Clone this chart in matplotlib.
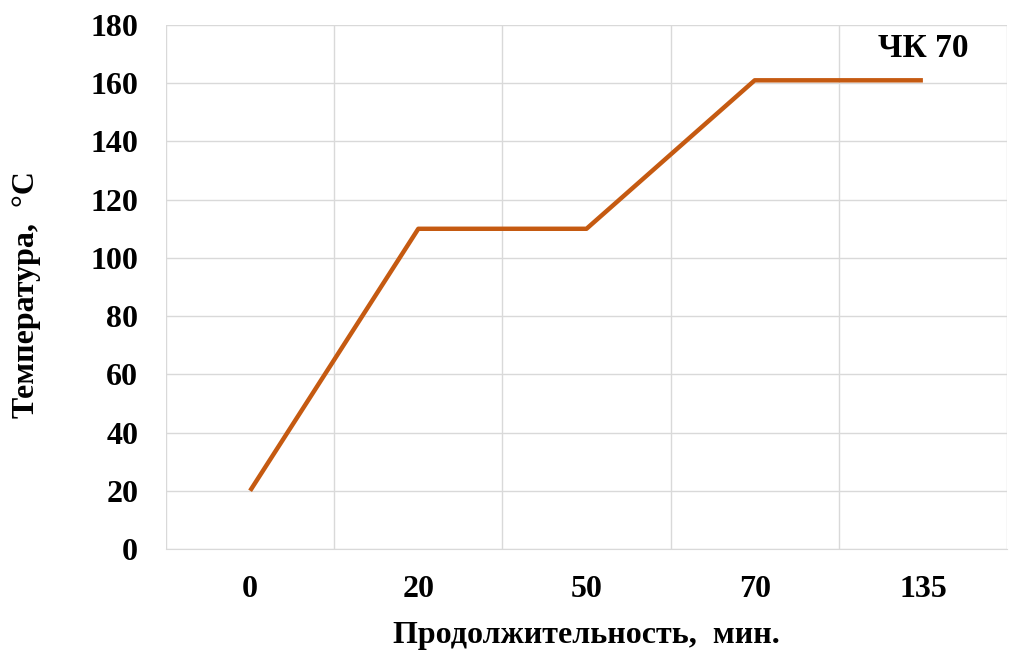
import matplotlib
matplotlib.use("Agg")
import matplotlib.pyplot as plt
import numpy as np

categories = ["0", "20", "50", "70", "135"]
temperature = [20, 110, 110, 161, 161]
series_label = "ЧК 70"
y_ticks = list(range(0, 181, 20))

plt.rcParams['font.family'] = ['Liberation Serif', 'DejaVu Serif']

fig = plt.figure(figsize=(10.24, 6.64), dpi=100)
# plot area: x 166..1007, y 25..549 px
ax = fig.add_axes([166/1024, 1 - 549/664, 841/1024, 524/664])

x = np.arange(len(categories))
ax.plot(x, temperature, color="#C55A11", lw=3.2, solid_capstyle="butt", zorder=3)

ax.set_xlim(-0.5, len(categories) - 0.5)
ax.set_ylim(0, 180)
ax.set_xticks(x)
ax.set_xticklabels(categories)
ax.set_yticks(y_ticks)
ax.set_xticks(np.arange(-0.5, len(categories), 0.5), minor=True)
ax.grid(True, which="minor", axis="x", color="#D9D9D9", lw=1)
ax.grid(True, which="major", axis="y", color="#D9D9D9", lw=1)
ax.set_axisbelow(True)
for s in ["left", "right", "top"]:
    ax.spines[s].set_visible(False)
ax.spines["bottom"].set_color("#D9D9D9")
ax.tick_params(which="both", length=0)
ax.tick_params(axis="x", pad=19, labelsize=23)
ax.tick_params(axis="y", pad=20, labelsize=23)
for lab in ax.get_xticklabels() + ax.get_yticklabels():
    lab.set_fontweight("bold")

ax.set_xlabel("Продолжительность,  мин.", fontsize=23, fontweight="bold",
              va="center", ha="center")
ax.xaxis.set_label_coords(0.5, -86/524)
ax.set_ylabel("Температура,  °С", fontsize=23, fontweight="bold",
              va="center", ha="center")
ax.yaxis.set_label_coords(-139/841, 0.485)

ax.text(4, 172, series_label, ha="center", va="center", fontsize=24, fontweight="bold")

fig.savefig("out.png", dpi=100)
